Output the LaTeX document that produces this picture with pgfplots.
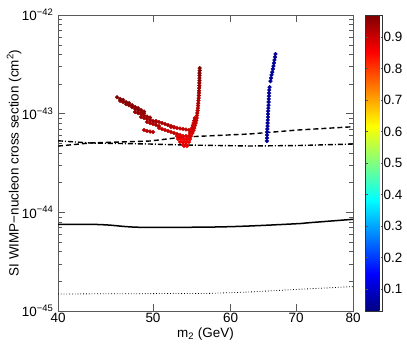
\documentclass[border=0pt]{standalone}
\usepackage{fontspec}
\setmainfont{Liberation Sans}
\usepackage{pgfplots}
\pgfplotsset{compat=1.18}

% scatter of model points: mass (GeV), cross section (cm^2), colour value
\pgfplotstableread{
x y c
45.95 1.47e-43 0.97
46.28 1.41e-43 0.97
46.61 1.38e-43 0.97
46.94 1.31e-43 0.97
47.27 1.28e-43 0.97
47.61 1.22e-43 0.96
47.94 1.17e-43 0.96
48.28 1.14e-43 0.96
48.62 1.09e-43 0.96
48.96 1.05e-43 0.96
46.28 1.35e-43 0.96
46.61 1.315e-43 0.96
46.94 1.25e-43 0.96
47.27 1.22e-43 0.96
47.61 1.17e-43 0.96
47.94 1.12e-43 0.96
48.28 1.09e-43 0.96
48.62 1.04e-43 0.95
48.96 1.005e-43 0.95
47.94 1.04e-43 0.95
48.28 1.016e-43 0.95
48.62 9.93e-44 0.95
48.96 9.59e-44 0.95
49.30 9.37e-44 0.95
49.66 9.15e-44 0.95
48.62 9.26e-44 0.94
48.96 9.04e-44 0.94
49.30 8.83e-44 0.94
49.66 8.63e-44 0.94
50.00 8.43e-44 0.94
50.36 8.24e-44 0.94
49.30 8.24e-44 0.93
49.66 8.05e-44 0.93
50.00 7.87e-44 0.93
50.36 7.68e-44 0.93
50.71 7.50e-44 0.93
50.36 8.43e-44 0.93
50.71 8.24e-44 0.93
51.07 8.05e-44 0.93
51.43 7.87e-44 0.93
51.79 7.68e-44 0.93
52.16 7.50e-44 0.93
52.53 7.33e-44 0.93
48.96 6.84e-44 0.92
49.30 6.68e-44 0.92
49.66 6.60e-44 0.92
50.00 6.53e-44 0.92
50.71 7.16e-44 0.91
51.07 7.00e-44 0.91
51.43 6.84e-44 0.91
51.79 6.68e-44 0.91
52.16 6.53e-44 0.91
52.53 6.38e-44 0.91
52.90 6.23e-44 0.91
53.28 6.08e-44 0.91
52.16 7.33e-44 0.91
52.53 7.25e-44 0.91
52.90 7.16e-44 0.91
53.28 7.08e-44 0.91
53.66 7.00e-44 0.91
54.04 6.92e-44 0.91
54.42 6.84e-44 0.91
54.80 6.84e-44 0.91
52.90 5.94e-44 0.88
53.28 5.94e-44 0.88
53.66 5.94e-44 0.88
54.04 5.94e-44 0.88
54.42 5.94e-44 0.88
53.03 5.54e-44 0.87
53.41 5.54e-44 0.87
53.79 5.54e-44 0.87
54.17 5.54e-44 0.87
54.55 5.54e-44 0.87
53.28 5.17e-44 0.87
53.66 5.17e-44 0.87
54.04 5.17e-44 0.87
54.42 5.17e-44 0.87
53.66 4.88e-44 0.87
54.04 4.88e-44 0.87
53.79 4.71e-44 0.87
54.17 4.71e-44 0.87
54.67 5.94e-44 0.89
54.87 6.38e-44 0.89
54.99 6.76e-44 0.89
55.10 7.16e-44 0.90
55.19 7.59e-44 0.90
55.28 8.05e-44 0.90
55.35 8.53e-44 0.91
55.40 9.04e-44 0.91
55.45 9.59e-44 0.91
55.49 1.016e-43 0.92
55.53 1.077e-43 0.92
55.57 1.14e-43 0.92
55.59 1.21e-43 0.93
55.62 1.28e-43 0.93
55.64 1.36e-43 0.93
55.67 1.44e-43 0.94
55.69 1.53e-43 0.94
55.71 1.62e-43 0.94
55.72 1.71e-43 0.95
55.74 1.82e-43 0.95
55.75 1.93e-43 0.95
55.76 2.05e-43 0.96
55.77 2.17e-43 0.96
55.77 2.30e-43 0.96
55.78 2.44e-43 0.97
55.78 2.58e-43 0.97
55.80 2.74e-43 0.97
55.80 2.90e-43 0.97
54.55 6.38e-44 0.89
54.67 6.76e-44 0.89
54.80 7.16e-44 0.90
54.90 7.59e-44 0.90
54.99 8.05e-44 0.90
55.08 8.53e-44 0.91
55.16 9.04e-44 0.91
65.34 5.29e-44 0.05
65.36 5.67e-44 0.05
65.37 6.08e-44 0.05
65.39 6.53e-44 0.05
65.42 7.00e-44 0.05
65.45 7.50e-44 0.05
65.46 8.05e-44 0.05
65.48 8.63e-44 0.05
65.51 9.26e-44 0.05
65.52 9.93e-44 0.05
65.54 1.064e-43 0.05
65.57 1.14e-43 0.05
65.60 1.22e-43 0.05
65.61 1.315e-43 0.05
65.64 1.41e-43 0.05
65.66 1.51e-43 0.05
65.69 1.62e-43 0.05
65.72 1.74e-43 0.05
65.76 1.86e-43 0.05
65.90 2.14e-43 0.05
65.99 2.30e-43 0.05
66.07 2.47e-43 0.05
66.18 2.64e-43 0.05
66.27 2.84e-43 0.05
66.36 3.04e-43 0.05
66.44 3.26e-43 0.05
66.52 3.50e-43 0.05
66.61 3.75e-43 0.05
66.69 4.03e-43 0.05
}\points

\begin{document}
\fontsize{13.5}{15}\selectfont
\begin{tikzpicture}
% page frame: axis box sits at (0,0)-(295bp,296bp)
\useasboundingbox (-58bp,-37bp) rectangle (349bp,311bp);
\begin{axis}[
  at={(0,0)}, anchor=south west,
  scale only axis,
  width=295bp, height=296bp,
  xmode=log, ymode=log,
  xmin=40, xmax=80, ymin=1e-45, ymax=1e-42,
  xtick={40,50,60,70,80},
  xticklabels={40,50,60,70,80},
  minor xtick={},
  ytick={1e-45,1e-44,1e-43,1e-42},
  yticklabels={10\textsuperscript{−45},10\textsuperscript{−44},10\textsuperscript{−43},10\textsuperscript{−42}},
  minor ytick={2e-45,3e-45,4e-45,5e-45,6e-45,7e-45,8e-45,9e-45,
               2e-44,3e-44,4e-44,5e-44,6e-44,7e-44,8e-44,9e-44,
               2e-43,3e-43,4e-43,5e-43,6e-43,7e-43,8e-43,9e-43},
  tick align=inside,
  major tick length=7bp, minor tick length=4bp,
  axis line style={draw=black!65, line width=0.5bp},
  every tick/.style={black!65, line width=0.5bp},
  xticklabel style={inner sep=2bp},
  xlabel={m\textsubscript{2} (GeV)},
  xlabel style={at={(axis description cs:0.5,-0.078)}, anchor=center, inner sep=1bp},
  ylabel={SI WIMP−nucleon cross section (cm\textsuperscript{2})},
  ylabel style={at={(axis description cs:-0.149,0.5)}, anchor=center, inner sep=1bp},
  colormap/jet,
  point meta min=0.03, point meta max=0.97,
  colorbar,
  colorbar style={
    at={(parent axis.north east)}, anchor=north west, xshift=4bp,
    width=17bp,
    ytick={0.1,0.2,0.3,0.4,0.5,0.6,0.7,0.8,0.9},
    yticklabel={\pgfmathprintnumber[assume math mode=true,fixed,fixed zerofill,precision=1]{\tick}},
    yticklabel style={inner sep=1bp},
    major tick length=2bp,
    axis line style={draw=black!80, line width=0.5bp},
  },
]

\addplot[scatter, only marks, mark=*, mark size=1.9bp, scatter src=explicit,
  scatter/use mapped color={draw=mapped color, fill=mapped color}]
  table[x=x, y=y, meta=c] {\points};

% solid limit
\addplot[black, line width=1.5bp, smooth] coordinates {
  (40,7.57e-45) (43.1,7.57e-45) (45,7.45e-45) (48.5,7.06e-45) (57.2,7.1e-45)
  (62.7,7.28e-45) (70.3,7.69e-45) (72.3,7.87e-45) (80,8.51e-45)};

% dotted projection
\addplot[black, line width=0.8bp, dash pattern=on 0.8bp off 2bp] coordinates {
  (40,1.49e-45) (57,1.51e-45) (62.7,1.56e-45) (70.3,1.66e-45) (80,1.77e-45)};

% dashed
\addplot[black, line width=1.4bp, dash pattern=on 5bp off 3bp] coordinates {
  (40,4.70e-44) (43.12,5.05e-44) (49.66,5.29e-44) (53.66,5.80e-44)
  (62.7,6.23e-44) (70.3,6.84e-44) (80,7.38e-44)};

% dash-dot
\addplot[black, line width=1.4bp, dash pattern=on 5bp off 2bp on 1bp off 2bp] coordinates {
  (40,5.32e-44) (43.12,5.05e-44) (49.66,4.93e-44) (53.66,4.82e-44)
  (62.7,4.71e-44) (70.3,4.76e-44) (80,4.93e-44)};

\end{axis}
\end{tikzpicture}
\end{document}
